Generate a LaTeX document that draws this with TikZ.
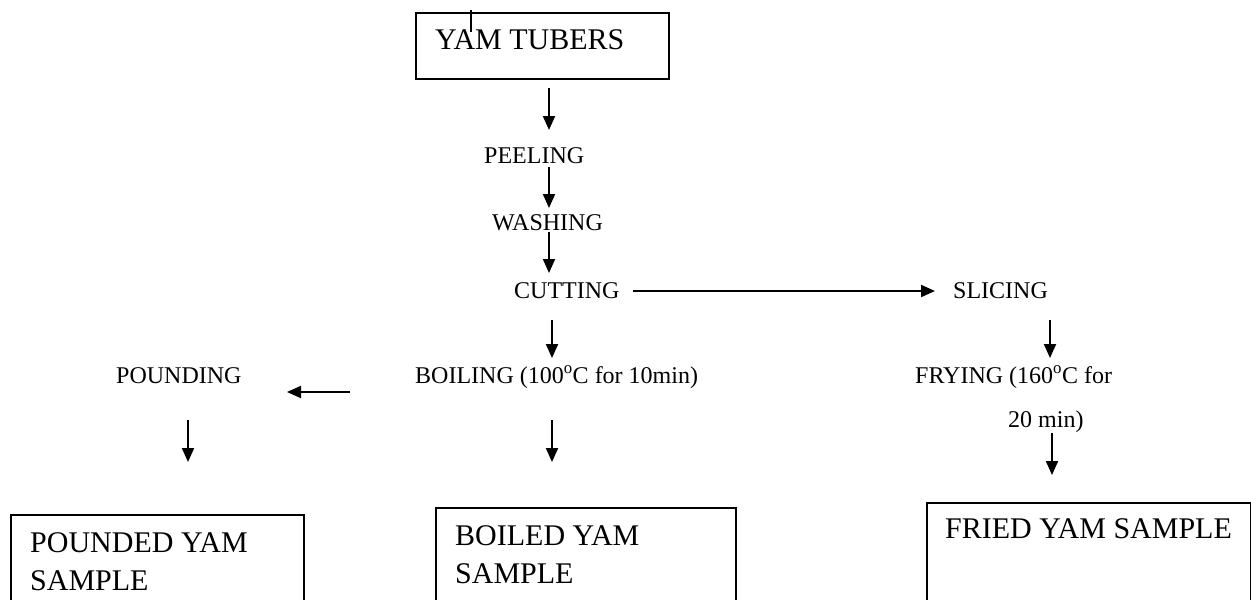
\documentclass[tikz,border=0pt]{standalone}
\usepackage{fontspec}
\setmainfont{Liberation Serif}
\usetikzlibrary{arrows.meta}
\begin{document}
\begin{tikzpicture}[x=1pt,y=-1pt,
  lbl/.style={inner sep=0pt,anchor=base west,font=\fontsize{24}{28}\selectfont},
  boxtxt/.style={inner sep=0pt,anchor=base west,font=\fontsize{30}{36}\selectfont},
  frame/.style={draw,line width=2pt},
  flow/.style={line width=2pt,-{Triangle[width=12pt,length=14pt]}}]
\useasboundingbox (0,0) rectangle (1251,600);
% top box
\node[frame,minimum width=253pt,minimum height=66pt,anchor=north west,inner sep=0pt] (yambox) at (415,12) {};
\node[inner sep=0pt,anchor=base west,font=\fontsize{30}{36}\selectfont] (yam) at (435,49) {YAM TUBERS};
\coordinate (tickA) at (471,10);
\coordinate (tickB) at (471,32);
\draw[line width=1.5pt] (tickA) -- (tickB);
% labels
\node[lbl] (peel) at (484,163) {PEELING};
\node[lbl] (wash) at (492,230) {WASHING};
\node[lbl] (cut) at (514,298) {CUTTING};
\node[lbl] (slice) at (953,298) {SLICING};
\node[lbl] (pound) at (116,383) {POUNDING};
\node[lbl] (boil) at (415,383) {BOILING (100\textsuperscript{o}C for 10min)};
\node[lbl] (fry) at (915,383) {FRYING (160\textsuperscript{o}C for};
\node[lbl] (fry2) at (1008,427) {20 min)};
% bottom boxes
\node[frame,anchor=north west,minimum width=293pt,minimum height=100pt,inner sep=0pt] (pbox) at (10,514) {};
\node[boxtxt] (ptxt1) at (30,552) {POUNDED YAM};
\node[boxtxt] (ptxt2) at (30,590) {SAMPLE};
\node[frame,anchor=north west,minimum width=300pt,minimum height=100pt,inner sep=0pt] (bbox) at (435,507) {};
\node[boxtxt] (btxt1) at (455,545) {BOILED YAM};
\node[boxtxt] (btxt2) at (455,583) {SAMPLE};
\node[frame,anchor=north west,minimum width=324pt,minimum height=110pt,inner sep=0pt] (fbox) at (926,502) {};
\node[boxtxt] (ftxt) at (945,538) {FRIED YAM SAMPLE};
% arrow end points
\coordinate (a1s) at (549,88);  \coordinate (a1e) at (549,130);
\coordinate (a2s) at (549,167); \coordinate (a2e) at (549,208);
\coordinate (a3s) at (549,232); \coordinate (a3e) at (549,273);
\coordinate (hs) at (633,291);  \coordinate (he) at (935,291);
\coordinate (a4s) at (552,320); \coordinate (a4e) at (552,358);
\coordinate (a5s) at (1050,320); \coordinate (a5e) at (1050,358);
\coordinate (ls) at (350,392);  \coordinate (le) at (287,392);
\coordinate (a6s) at (188,420); \coordinate (a6e) at (188,462);
\coordinate (a7s) at (552,420); \coordinate (a7e) at (552,462);
\coordinate (a8s) at (1052,433); \coordinate (a8e) at (1052,475);
\foreach \s/\e in {a1s/a1e,a2s/a2e,a3s/a3e,hs/he,a4s/a4e,a5s/a5e,ls/le,a6s/a6e,a7s/a7e,a8s/a8e}
  \draw[flow] (\s) -- (\e);
\end{tikzpicture}
\end{document}
